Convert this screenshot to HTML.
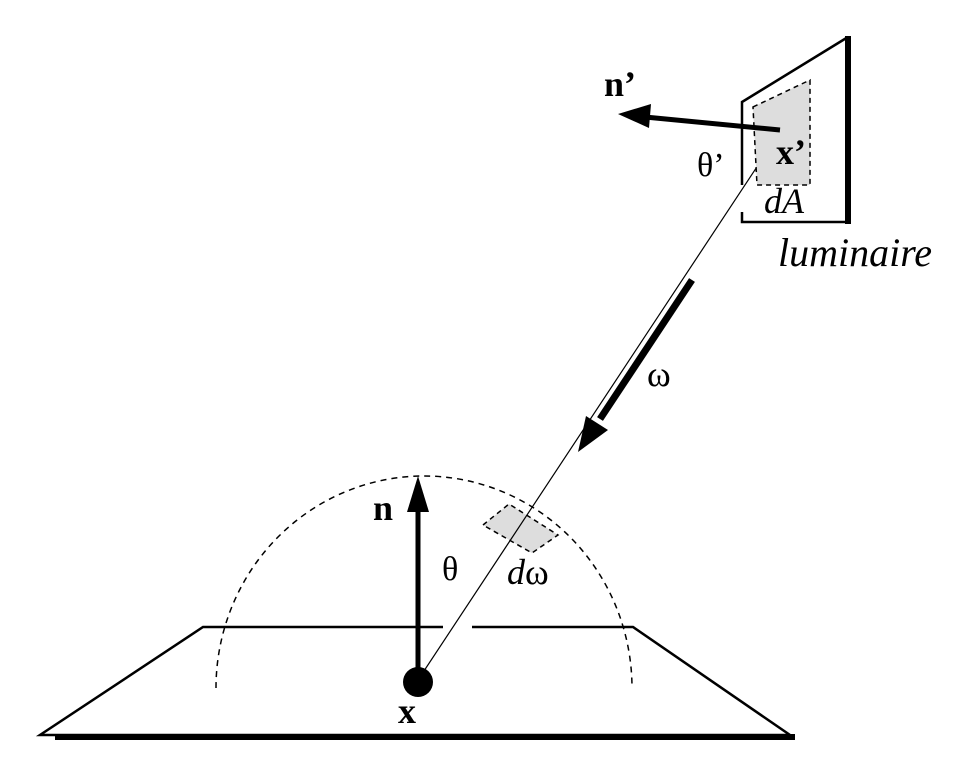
<!DOCTYPE html>
<html><head><style>body{margin:0;background:#fff}svg{display:block}</style></head><body>
<svg width="970" height="784" viewBox="0 0 970 784" xmlns="http://www.w3.org/2000/svg" font-family="Liberation Serif, serif">
<path d="M216,688 A208,212 0 0 1 632,688" fill="none" stroke="#000" stroke-width="1.5" stroke-dasharray="6,5"/>
<polyline points="443,627 203,627 40,735 790,735 633,627 472,627" fill="none" stroke="#000" stroke-width="2.5"/>
<line x1="55" y1="737" x2="795" y2="737" stroke="#000" stroke-width="6"/>
<polygon points="483,525 509,504 558,535 532,553" fill="#ddd" stroke="#000" stroke-width="1.5" stroke-dasharray="5,4"/>
<line x1="418" y1="680" x2="776" y2="138" stroke="#000" stroke-width="1.2"/>
<line x1="692" y1="280" x2="600" y2="419" stroke="#000" stroke-width="7"/>
<polygon points="578,452 586,416 608,430" fill="#000"/>
<line x1="418" y1="680" x2="418" y2="505" stroke="#000" stroke-width="5"/>
<polygon points="418,476 407,512 429,512" fill="#000"/>
<circle cx="418" cy="682" r="15" fill="#000"/>
<polygon points="753,107 810,80 810,185 757,185" fill="#ddd" stroke="#000" stroke-width="1.5" stroke-dasharray="5,4"/>
<polyline points="742,185 742,102 848,37" fill="none" stroke="#000" stroke-width="2.5"/>
<polyline points="742,212 742,222 848,222" fill="none" stroke="#000" stroke-width="2.5"/>
<line x1="848" y1="36" x2="848" y2="224" stroke="#000" stroke-width="6"/>
<line x1="780" y1="130" x2="645" y2="117" stroke="#000" stroke-width="5"/>
<polygon points="618,114 651,104 649,128" fill="#000"/>
<text x="604" y="96" font-size="36" font-weight="bold">n’</text>
<text x="776" y="164" font-size="36" font-weight="bold">x’</text>
<text x="697" y="176" font-size="34">θ’</text>
<text x="764" y="213" font-size="36" font-style="italic">dA</text>
<text x="778" y="266" font-size="40" font-style="italic">luminaire</text>
<text x="647" y="386" font-size="36">ω</text>
<text x="373" y="520" font-size="36" font-weight="bold">n</text>
<text x="442" y="580" font-size="34">θ</text>
<text x="507" y="584" font-size="36"><tspan font-style="italic">d</tspan>ω</text>
<text x="398" y="723" font-size="36" font-weight="bold">x</text>
</svg>
</body></html>
